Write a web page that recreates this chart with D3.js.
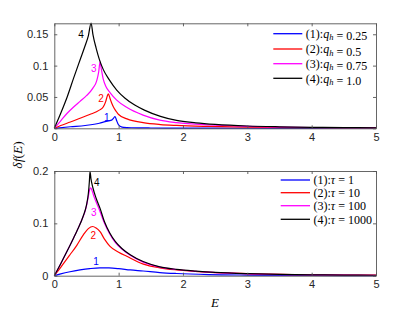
<!DOCTYPE html>
<html>
<head>
<meta charset="utf-8">
<script src="https://cdn.jsdelivr.net/npm/d3@7"></script>
<style>
  body { margin: 0; background: #fff; }
  svg { display: block; }
</style>
</head>
<body>
<svg></svg>
<script>
const W = 415, H = 312;

// ---- data ----
const xTicks = [0, 1, 2, 3, 4, 5];
const topYTicks = [0, 0.05, 0.1, 0.15];
const botYTicks = [0, 0.1, 0.2];
const colors = ["#0000ff", "#ff0000", "#ff00ff", "#000000"];

// top panel, q_h series: [E, df]
const qh025 = [[0,0],[0.25,0.0025],[0.48,0.0045],[0.7,0.008],[0.79,0.0106],[0.89,0.013],[0.92,0.016],[0.944,0.0188],
  [0.97,0.012],[0.995,0.006],[1.03,0.003],[1.08,0.0015],[1.2,0.0009],[1.5,0.0005],[2,0.0003],[3,0.0001],[5,0]];
const qh05 = [[0,0],[0.1,0.0045],[0.25,0.010],[0.4,0.016],[0.55,0.022],[0.7,0.029],[0.76,0.034],[0.8,0.043],[0.825,0.052],[0.84,0.055],
  [0.865,0.048],[0.893,0.040],[0.93,0.032],[0.97,0.026],[1.0,0.022],[1.13,0.015],[1.38,0.009],[1.65,0.006],[1.9,0.0046],
  [2.4,0.003],[3,0.0018],[4,0.001],[5,0.0006]];
const qh075 = [[0,0],[0.1,0.012],[0.2,0.024],[0.3,0.034],[0.4,0.043],[0.5,0.052],[0.6,0.064],[0.66,0.076],[0.69,0.090],[0.711,0.106],
  [0.73,0.095],[0.762,0.078],[0.8,0.067],[0.866,0.057],[0.97,0.045],[1.13,0.033],[1.38,0.021],[1.64,0.013],[1.9,0.009],
  [2.42,0.0053],[3,0.0032],[3.5,0.002],[4,0.0013],[5,0.0006]];
const qh10 = [[0,0],[0.1,0.024],[0.2,0.05],[0.3,0.08],[0.4,0.109],[0.48,0.132],[0.53,0.148],[0.572,0.168],
  [0.6,0.15],[0.65,0.128],[0.7,0.11],[0.76,0.094],[0.85,0.078],[0.97,0.061],[1.1,0.048],[1.25,0.037],[1.4,0.029],
  [1.65,0.019],[1.9,0.0125],[2.2,0.0088],[2.5,0.0063],[3,0.0037],[3.5,0.0024],[4,0.0016],[4.5,0.0011],[5,0.0008]];

// bottom panel, tau series: [E, df]
const tau1 = [[0,0],[0.1,0.0035],[0.244,0.0076],[0.4,0.011],[0.55,0.0135],[0.71,0.015],[0.85,0.0148],[1.0,0.0135],
  [1.18,0.011],[1.38,0.009],[1.64,0.006],[1.9,0.0042],[2.4,0.0022],[3,0.0012],[4,0.0005],[5,0.0002]];
const tau10 = [[0,0],[0.1,0.016],[0.244,0.040],[0.35,0.058],[0.451,0.078],[0.529,0.090],[0.597,0.094],[0.65,0.091],[0.711,0.084],
  [0.78,0.070],[0.866,0.056],[1.0,0.045],[1.126,0.037],[1.384,0.022],[1.644,0.015],[1.9,0.011],[2.42,0.0065],
  [3,0.004],[4,0.0018],[5,0.001]];
const tau100 = [[0,0],[0.1,0.023],[0.2,0.047],[0.3,0.072],[0.4,0.099],[0.5,0.133],[0.53,0.152],[0.55,0.165],[0.566,0.168],
  [0.585,0.163],[0.62,0.150],[0.7,0.126],[0.78,0.100],[0.86,0.080],[0.95,0.063],[1.05,0.051],[1.18,0.039],[1.38,0.026],
  [1.64,0.0165],[1.9,0.0118],[2.5,0.006],[3,0.0036],[4,0.0016],[5,0.0008]];
const tau1000 = [[0,0],[0.1,0.023],[0.2,0.047],[0.3,0.072],[0.35,0.085],[0.45,0.114],[0.5,0.135],[0.53,0.158],[0.545,0.18],[0.555,0.199],
  [0.57,0.185],[0.6,0.168],[0.65,0.148],[0.71,0.129],[0.78,0.103],[0.86,0.082],[0.95,0.065],[1.05,0.052],[1.18,0.040],
  [1.38,0.027],[1.64,0.017],[1.9,0.0122],[2.2,0.0088],[2.5,0.0062],[3,0.0038],[3.5,0.0025],[4,0.0017],[4.5,0.0012],[5,0.0009]];

const topLegend = [["(1):", "0.25"], ["(2):", "0.5"], ["(3):", "0.75"], ["(4):", "1.0"]];
const botLegend = [["(1):", "1"], ["(2):", "10"], ["(3):", "100"], ["(4):", "1000"]];
const topLabels = [[0.815, 0.018], [0.726, 0.047], [0.613, 0.096], [0.415, 0.149]];
const botLabels = [[0.648, 0.028], [0.606, 0.076], [0.613, 0.121], [0.66, 0.178]];

const svg = d3.select("svg").attr("width", W).attr("height", H);

const x = d3.scaleLinear().domain([0, 5]).range([54.3, 376]);

function panel(opts) {
  const y = d3.scaleLinear().domain(opts.yDomain).range(opts.yRange);
  const g = svg.append("g");
  const x0 = x.range()[0], x1 = x.range()[1];
  const yb = opts.yRange[0], yt = opts.yRange[1];

  // curves
  const line = d3.line().x(d => x(d[0])).y(d => y(d[1])).curve(d3.curveMonotoneX);
  g.selectAll("path.curve")
    .data(opts.series)
    .enter()
    .append("path")
    .attr("class", "curve")
    .attr("d", line)
    .attr("fill", "none")
    .attr("stroke", (d, i) => colors[i])
    .attr("stroke-width", 1.2);

  // axes: bottom/left with labels, top/right ticks only; ticks inward
  const tl = 3;
  g.append("g").attr("transform", `translate(0,${yb})`)
    .call(d3.axisBottom(x).tickValues(xTicks).tickFormat(d3.format("d")).tickSizeInner(-tl).tickSizeOuter(0).tickPadding(5));
  g.append("g").attr("transform", `translate(0,${yt})`)
    .call(d3.axisTop(x).tickValues(xTicks).tickFormat("").tickSizeInner(-tl).tickSizeOuter(0));
  g.append("g").attr("transform", `translate(${x0},0)`)
    .call(d3.axisLeft(y).tickValues(opts.yTicks).tickFormat(d => d === 0 ? "0" : String(d)).tickSizeInner(-tl).tickSizeOuter(0).tickPadding(6));
  g.append("g").attr("transform", `translate(${x1},0)`)
    .call(d3.axisRight(y).tickValues(opts.yTicks).tickFormat("").tickSizeInner(-tl).tickSizeOuter(0));
  g.selectAll(".domain").attr("stroke", "#555").attr("stroke-width", 0.9);
  g.selectAll(".tick line").attr("stroke", "#555").attr("stroke-width", 0.9);
  g.selectAll(".tick text").attr("font-family", "Liberation Sans, Arial, sans-serif").attr("font-size", 11).attr("fill", "#262626");

  // curve numbers
  g.selectAll("text.num")
    .data(opts.labels)
    .enter()
    .append("text")
    .attr("class", "num")
    .attr("x", d => x(d[0]))
    .attr("y", d => y(d[1]))
    .attr("dy", "0.35em")
    .attr("text-anchor", "middle")
    .attr("font-family", "Liberation Sans, Arial, sans-serif")
    .attr("font-size", 10)
    .attr("fill", (d, i) => colors[i])
    .text((d, i) => i + 1);

  // legend
  const lg = g.append("g");
  opts.legend.forEach((d, i) => {
    const yy = opts.legY[i];
    lg.append("line")
      .attr("x1", opts.legX[0]).attr("x2", opts.legX[1])
      .attr("y1", yy).attr("y2", yy)
      .attr("stroke", colors[i]).attr("stroke-width", 1.3);
    const t = lg.append("text")
      .attr("x", opts.legX[1] + 3.5).attr("y", yy).attr("dy", "0.35em")
      .attr("font-family", "Liberation Serif, Times New Roman, serif")
      .attr("font-size", 12).attr("fill", "#000");
    t.append("tspan").text(d[0]);
    opts.sym(t);
    t.append("tspan").text(" = " + d[1]);
  });
}

panel({
  yDomain: [0, 0.1675], yRange: [128.3, 23.3], yTicks: topYTicks,
  series: [qh025, qh05, qh075, qh10], labels: topLabels, legend: topLegend,
  legX: [273.3, 302.3], legY: [33.7, 49, 63.7, 78.3],
  sym: t => {
    t.append("tspan").attr("font-style", "italic").text("q");
    t.append("tspan").attr("font-style", "italic").attr("font-size", 8.5).attr("dy", "2.5").text("h");
    t.append("tspan").attr("dy", "-2.5").text("");
  }
});

panel({
  yDomain: [0, 0.2], yRange: [275.7, 171], yTicks: botYTicks,
  series: [tau1, tau10, tau100, tau1000], labels: botLabels, legend: botLegend,
  legX: [280.7, 310], legY: [180, 192.7, 205.7, 219.3],
  sym: t => { t.append("tspan").attr("font-style", "italic").text("τ"); }
});

// axis titles
svg.append("text")
  .attr("x", 215).attr("y", 302).attr("dy", "0.35em")
  .attr("text-anchor", "middle")
  .attr("font-family", "Liberation Serif, Times New Roman, serif")
  .attr("font-style", "italic").attr("font-size", 13)
  .text("E");

const yl = svg.append("text")
  .attr("transform", "translate(17,155) rotate(-90)")
  .attr("dy", "0.35em")
  .attr("text-anchor", "middle")
  .attr("font-family", "Liberation Serif, Times New Roman, serif")
  .attr("font-size", 13.5);
yl.append("tspan").attr("font-style", "italic").text("δf");
yl.append("tspan").text("(");
yl.append("tspan").attr("font-style", "italic").text("E");
yl.append("tspan").text(")");
</script>
</body>
</html>
